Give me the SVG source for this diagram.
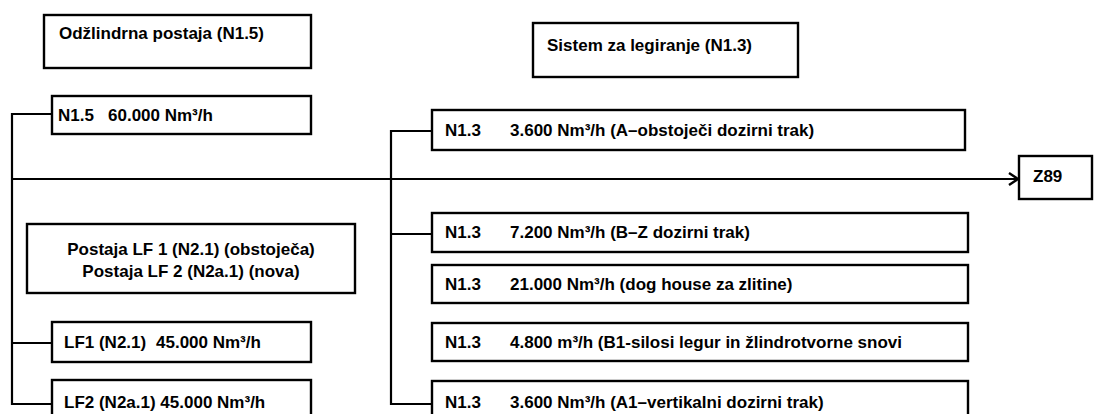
<svg xmlns="http://www.w3.org/2000/svg" width="1096" height="414" viewBox="0 0 1096 414">
<style>
.box{fill:#fff;stroke:#000;stroke-width:2.4}
.t{font-family:"Liberation Sans","DejaVu Sans",sans-serif;font-weight:bold;font-size:17px;fill:#000}
.c{fill:none;stroke:#000;stroke-width:2.2}
</style>
<defs>
<marker id="arr" viewBox="0 0 12 14" refX="11" refY="7" markerWidth="12" markerHeight="14" markerUnits="userSpaceOnUse" orient="auto">
<polyline points="2,1 11,7 2,13" fill="none" stroke="#000" stroke-width="2.4"/>
</marker>
</defs>
<rect width="1096" height="414" fill="#fff"/>
<g id="connectors">
<polyline class="c" points="52,114 12,114 12,404 52,404"/>
<line class="c" x1="12" y1="343" x2="52" y2="343"/>
<line class="c" x1="12" y1="179" x2="1018" y2="179" marker-end="url(#arr)"/>
<polyline class="c" points="432,131 391,131 391,404 432,404"/>
<line class="c" x1="391" y1="234" x2="432" y2="234"/>
</g>
<g id="odzlindrna">
<rect class="box" x="44" y="15" width="267" height="53"/>
<text class="t" x="59" y="39">Odžlindrna postaja (N1.5)</text>
</g>
<g id="n15">
<rect class="box" x="52" y="96" width="259" height="38"/>
<text class="t" x="58" y="121">N1.5</text>
<text class="t" x="108" y="121">60.000 Nm³/h</text>
</g>
<g id="lf">
<rect class="box" x="27" y="224" width="328" height="69"/>
<text class="t" x="191" y="255" text-anchor="middle">Postaja LF 1 (N2.1) (obstoječa)</text>
<text class="t" x="191" y="277" text-anchor="middle">Postaja LF 2 (N2a.1) (nova)</text>
</g>
<g id="lf1">
<rect class="box" x="52" y="322" width="259" height="40"/>
<text class="t" x="64" y="348">LF1 (N2.1)</text>
<text class="t" x="156" y="348">45.000 Nm³/h</text>
</g>
<g id="lf2">
<rect class="box" x="52" y="380" width="259" height="40"/>
<text class="t" x="64" y="408">LF2 (N2a.1) 45.000 Nm³/h</text>
</g>
<g id="sistem">
<rect class="box" x="533" y="23" width="265" height="54"/>
<text class="t" x="547" y="51">Sistem za legiranje (N1.3)</text>
</g>
<g id="n13a">
<rect class="box" x="432" y="110" width="533" height="40"/>
<text class="t" x="445" y="136">N1.3</text>
<text class="t" x="510" y="136">3.600 Nm³/h (A–obstoječi dozirni trak)</text>
</g>
<g id="n13b">
<rect class="box" x="432" y="213" width="536" height="39"/>
<text class="t" x="445" y="238">N1.3</text>
<text class="t" x="510" y="238">7.200 Nm³/h (B–Z dozirni trak)</text>
</g>
<g id="n13c">
<rect class="box" x="432" y="265" width="536" height="38"/>
<text class="t" x="445" y="290">N1.3</text>
<text class="t" x="510" y="290">21.000 Nm³/h  (dog house za zlitine)</text>
</g>
<g id="n13d">
<rect class="box" x="432" y="323" width="536" height="38"/>
<text class="t" x="445" y="348">N1.3</text>
<text class="t" x="510" y="348">4.800 m³/h (B1-silosi legur in žlindrotvorne snovi</text>
</g>
<g id="n13e">
<rect class="box" x="432" y="381" width="536" height="40"/>
<text class="t" x="445" y="408">N1.3</text>
<text class="t" x="510" y="408">3.600 Nm³/h (A1–vertikalni dozirni trak)</text>
</g>
<g id="z89">
<rect class="box" x="1019" y="156" width="73" height="43"/>
<text class="t" x="1033" y="182">Z89</text>
</g>
</svg>
